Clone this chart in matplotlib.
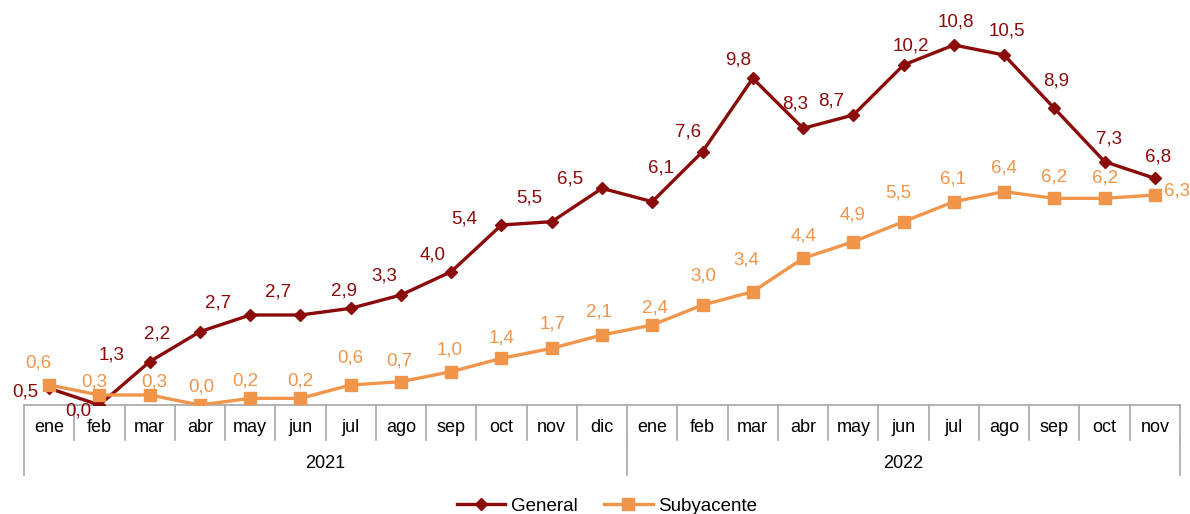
import matplotlib.pyplot as plt
import matplotlib.transforms as mtransforms

plt.rcParams['font.family'] = ['Liberation Sans', 'DejaVu Sans']

# datos
meses = ["ene", "feb", "mar", "abr", "may", "jun", "jul", "ago", "sep", "oct", "nov", "dic",
         "ene", "feb", "mar", "abr", "may", "jun", "jul", "ago", "sep", "oct", "nov"]
anios = ["2021", "2022"]
meses_por_anio = [12, 11]
general = [0.5, 0.0, 1.3, 2.2, 2.7, 2.7, 2.9, 3.3, 4.0, 5.4, 5.5, 6.5,
           6.1, 7.6, 9.8, 8.3, 8.7, 10.2, 10.8, 10.5, 8.9, 7.3, 6.8]
subyacente = [0.6, 0.3, 0.3, 0.0, 0.2, 0.2, 0.6, 0.7, 1.0, 1.4, 1.7, 2.1,
              2.4, 3.0, 3.4, 4.4, 4.9, 5.5, 6.1, 6.4, 6.2, 6.2, 6.3]

# desplazamiento de las etiquetas (pixeles)
off_gen = [(-24, -4), (-21, -6), (-38, 7), (-43, -2), (-32, 12), (-22, 23), (-7, 17), (-17, 19),
           (-19, 17), (-37, 6), (-22, 24), (-32, 9), (9, 34), (-14, 20), (-15, 18), (-8, 24),
           (-22, 14), (7, 19), (2, 23), (3, 24), (2, 27), (4, 23), (3, 21)]
off_sub = [(-11, 22), (-5, 13), (5, 13), (1, 18), (-5, 17), (0, 17), (0, 27), (-2, 21),
           (-2, 22), (0, 20), (1, 24), (-3, 23), (3, 17), (1, 29), (-7, 32), (1, 22),
           (-1, 27), (-5, 29), (-1, 23), (0, 24), (0, 21), (0, 20), (22, 4)]

c_gen = "#8B0A0A"
c_sub = "#F0954A"
gris = "#A6A6A6"

fig = plt.figure(figsize=(11.9, 5.14), dpi=100)
ax = fig.add_axes([24 / 1190, 109 / 514, 1156 / 1190, 400 / 514])

x = list(range(len(meses)))
ax.plot(x, general, color=c_gen, lw=2.4, marker="D", ms=6.5, label="General", zorder=3)
ax.plot(x, subyacente, color=c_sub, lw=2.4, marker="s", ms=8, label="Subyacente", zorder=3)

for i in x:
    ax.annotate(f"{general[i]:.1f}".replace(".", ","), (i, general[i]), xytext=off_gen[i],
                textcoords="offset pixels", ha="center", va="center", fontsize=13.5, color=c_gen)
    ax.annotate(f"{subyacente[i]:.1f}".replace(".", ","), (i, subyacente[i]), xytext=off_sub[i],
                textcoords="offset pixels", ha="center", va="center", fontsize=13.5, color=c_sub)

ax.set_xlim(-0.5, len(meses) - 0.5)
ax.set_ylim(0, 12)
ax.set_xticks([])
ax.set_yticks([])
for s in ["left", "right", "top"]:
    ax.spines[s].set_visible(False)
ax.spines["bottom"].set_color(gris)
ax.spines["bottom"].set_linewidth(1.2)

# eje de categorias con dos niveles
tr = mtransforms.blended_transform_factory(ax.transData, ax.transAxes)
fila1 = -35 / 400
fila2 = -70 / 400
for i in range(len(meses) + 1):
    ax.plot([i - 0.5, i - 0.5], [0, fila1], color=gris, lw=1.2, transform=tr, clip_on=False)
    if i < len(meses):
        ax.text(i, -22 / 400, meses[i], transform=tr, ha="center", va="center", fontsize=13)

inicio = 0
for anio, n in zip(anios, meses_por_anio):
    ax.plot([inicio - 0.5, inicio - 0.5], [fila1, fila2], color=gris, lw=1.2, transform=tr, clip_on=False)
    ax.text(inicio + n / 2 - 0.5, -58 / 400, anio, transform=tr, ha="center", va="center", fontsize=13)
    inicio += n
ax.plot([inicio - 0.5, inicio - 0.5], [fila1, fila2], color=gris, lw=1.2, transform=tr, clip_on=False)

fig.legend(loc="center", bbox_to_anchor=(0.51, 8 / 514), ncol=2, frameon=False, fontsize=13.5,
           handlelength=2.6, handletextpad=0.3, columnspacing=1.4)

fig.savefig("out.png", dpi=100)
